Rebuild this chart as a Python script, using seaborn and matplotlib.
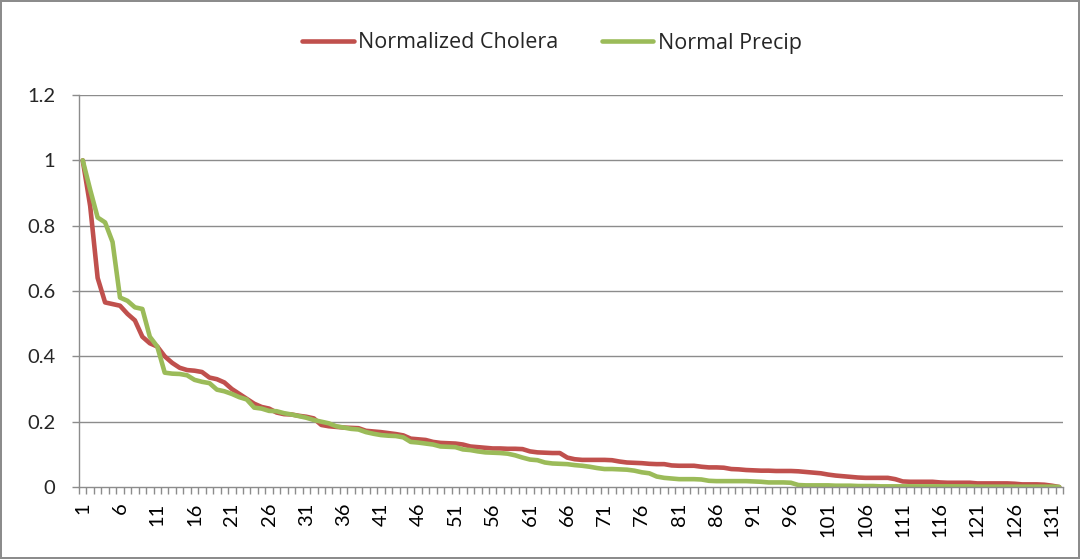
import numpy as np
import pandas as pd
import matplotlib
matplotlib.use("Agg")
import matplotlib.pyplot as plt
import seaborn as sns

cholera = [
    1.00, 0.86, 0.64, 0.565, 0.56, 0.555, 0.53, 0.51, 0.46, 0.44,
    0.43, 0.40, 0.38, 0.365, 0.358, 0.356, 0.352, 0.335, 0.33, 0.32,
    0.30, 0.285, 0.27, 0.255, 0.245, 0.24, 0.228, 0.223, 0.222, 0.218,
    0.215, 0.21, 0.19, 0.186, 0.184, 0.182, 0.181, 0.18, 0.172, 0.17,
    0.168, 0.165, 0.162, 0.158, 0.148, 0.146, 0.144, 0.138, 0.135, 0.134,
    0.133, 0.13, 0.124, 0.122, 0.12, 0.118, 0.118, 0.117, 0.117, 0.116,
    0.109, 0.106, 0.105, 0.104, 0.104, 0.09, 0.085, 0.083, 0.083, 0.083,
    0.083, 0.082, 0.078, 0.075, 0.074, 0.073, 0.071, 0.07, 0.07, 0.066,
    0.065, 0.065, 0.065, 0.062, 0.06, 0.06, 0.059, 0.055, 0.054, 0.052,
    0.051, 0.05, 0.05, 0.049, 0.049, 0.049, 0.048, 0.046, 0.044, 0.042,
    0.038, 0.035, 0.033, 0.031, 0.029, 0.028, 0.028, 0.028, 0.028, 0.024,
    0.017, 0.016, 0.016, 0.016, 0.016, 0.014, 0.013, 0.013, 0.013, 0.013,
    0.011, 0.011, 0.011, 0.011, 0.011, 0.010, 0.008, 0.008, 0.008, 0.007,
    0.004, 0.0,
]

precip = [
    1.00, 0.91, 0.825, 0.81, 0.75, 0.58, 0.57, 0.55, 0.545, 0.46,
    0.43, 0.35, 0.347, 0.346, 0.342, 0.328, 0.322, 0.318, 0.298, 0.293,
    0.285, 0.275, 0.268, 0.243, 0.24, 0.233, 0.232, 0.226, 0.222, 0.217,
    0.212, 0.205, 0.20, 0.195, 0.186, 0.182, 0.178, 0.176, 0.168, 0.163,
    0.159, 0.157, 0.156, 0.152, 0.138, 0.136, 0.133, 0.13, 0.124, 0.123,
    0.122, 0.115, 0.113, 0.109, 0.106, 0.105, 0.104, 0.102, 0.097, 0.09,
    0.084, 0.082, 0.075, 0.072, 0.071, 0.07, 0.067, 0.065, 0.062, 0.058,
    0.055, 0.055, 0.054, 0.053, 0.05, 0.045, 0.042, 0.032, 0.028, 0.026,
    0.024, 0.024, 0.024, 0.023, 0.019, 0.018, 0.018, 0.018, 0.018, 0.018,
    0.017, 0.016, 0.014, 0.014, 0.014, 0.013, 0.006, 0.005, 0.005, 0.005,
    0.005, 0.004, 0.004, 0.004, 0.003, 0.003, 0.003, 0.002, 0.002, 0.002,
    0.002, 0.002, 0.002, 0.002, 0.002, 0.002, 0.002, 0.002, 0.002, 0.002,
    0.001, 0.001, 0.001, 0.001, 0.001, 0.001, 0.001, 0.001, 0.001, 0.001,
    0.001, 0.0,
]

series_names = ["Normalized Cholera", "Normal Precip"]
series_colors = ["#C0504D", "#9BBB59"]
y_ticks = [0, 0.2, 0.4, 0.6, 0.8, 1, 1.2]
y_tick_labels = ["0", "0.2", "0.4", "0.6", "0.8", "1", "1.2"]

n = len(cholera)
idx = np.arange(1, n + 1)
df = pd.DataFrame({
    "idx": np.concatenate([idx, idx]),
    "value": cholera + precip,
    "series": [series_names[0]] * n + [series_names[1]] * n,
})

sns.set_theme(style="white")
plt.rcParams["font.family"] = ["Lato", "DejaVu Sans"]

fig = plt.figure(figsize=(10.8, 5.59), dpi=100)
fig.patch.set_facecolor("white")
fig.patch.set_edgecolor("#8c8c8c")
fig.patch.set_linewidth(1.5)
ax = fig.add_axes([79 / 1080, 1 - 487 / 559, (1063 - 79) / 1080, (487 - 95) / 559])

sns.lineplot(data=df, x="idx", y="value", hue="series",
             palette=dict(zip(series_names, series_colors)),
             linewidth=3.3, ax=ax, legend=False)

grid_c = "#8c8c8c"
ax.set_xlim(0.5, n + 0.5)
ax.set_ylim(0, 1.2)
ax.set_yticks(y_ticks)
ax.set_yticklabels(y_tick_labels)
for y in y_ticks[1:]:
    ax.axhline(y, color=grid_c, lw=1.0, zorder=0)

# category labels every fifth point, tick marks between every category
label_pos = list(range(1, n + 1, 5))
ax.set_xticks(label_pos)
ax.set_xticklabels([str(p) for p in label_pos], rotation=90)
ax.set_xticks(np.arange(0.5, n + 1, 1.0), minor=True)
ax.tick_params(axis="x", which="major", length=0, pad=11, labelsize=14.5, colors="black")
ax.tick_params(axis="x", which="minor", length=5, width=1, color=grid_c, direction="out", bottom=True)
ax.tick_params(axis="y", which="major", length=5, width=1, color=grid_c, direction="out",
               left=True, labelsize=14.5, pad=12)

for side in ["top", "right"]:
    ax.spines[side].set_visible(False)
for side in ["left", "bottom"]:
    ax.spines[side].set_color(grid_c)
    ax.spines[side].set_linewidth(1.0)
ax.set_xlabel("")
ax.set_ylabel("")

handles = [plt.Line2D([], [], color=c, lw=3.3) for c in series_colors]
fig.legend(handles, series_names, loc="center", bbox_to_anchor=(552 / 1080, 1 - 43 / 559),
           ncol=2, frameon=False, prop={"family": ["Open Sans", "DejaVu Sans"], "size": 15.5},
           handlelength=2.4, handletextpad=0.2, columnspacing=2.0)

fig.savefig("out.png", dpi=100, facecolor=fig.get_facecolor(), edgecolor=fig.get_edgecolor())
